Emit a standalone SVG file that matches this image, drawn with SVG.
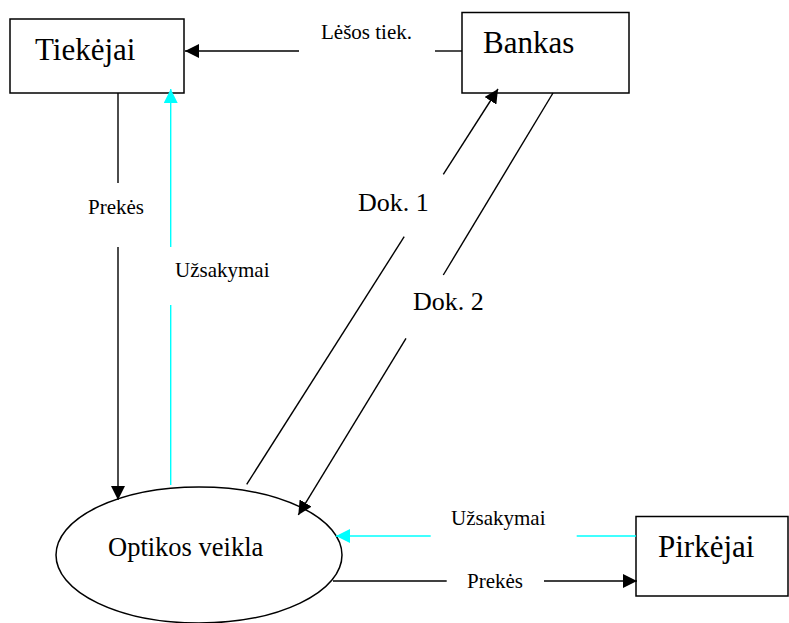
<svg xmlns="http://www.w3.org/2000/svg" width="789" height="623" viewBox="0 0 789 623">
  <style>
    .box { fill: #ffffff; stroke: #000000; stroke-width: 1.5; }
    text { font-family: "Liberation Serif", "Times New Roman", Times, "DejaVu Serif", serif; fill: #000000; }
    .node-label { font-size: 31px; }
    .flow { fill: none; stroke: #000000; stroke-width: 1.4; }
    .flow.cyan { stroke: #00ffff; }
    .flow-label { font-size: 21px; }
    .doc-label { font-size: 26px; }
  </style>
  <defs>
    <marker id="arrow-black" markerUnits="userSpaceOnUse" markerWidth="14" markerHeight="14" refX="14" refY="7" orient="auto">
      <path d="M0,0 L14,7 L0,14 Z" fill="#000000"/>
    </marker>
    <marker id="arrow-cyan" markerUnits="userSpaceOnUse" markerWidth="14" markerHeight="14" refX="14" refY="7" orient="auto">
      <path d="M0,0 L14,7 L0,14 Z" fill="#00ffff"/>
    </marker>
  </defs>
  <rect width="789" height="623" fill="#ffffff"/>

  <!-- Nodes -->
  <g id="tiekejai">
    <rect class="box" x="10" y="19" width="174" height="74"/>
    <text class="node-label" x="35" y="60" font-family="Liberation Serif">Tiekėjai</text>
  </g>
  <g id="bankas">
    <rect class="box" x="462" y="12.5" width="167" height="80.5"/>
    <text class="node-label" x="483" y="53" font-family="Liberation Serif">Bankas</text>
  </g>
  <g id="optikos-veikla">
    <ellipse class="box" cx="199" cy="555" rx="143" ry="68"/>
    <text class="node-label" style="font-size:26.5px" x="108" y="556" font-family="Liberation Serif">Optikos veikla</text>
  </g>
  <g id="pirkejai">
    <rect class="box" x="636" y="516.5" width="152" height="79.5"/>
    <text class="node-label" x="658" y="557" font-family="Liberation Serif">Pirkėjai</text>
  </g>

  <!-- Connectors -->
  <g id="connectors">
    <!-- Bankas -> Tiekėjai : Lėšos tiek. -->
    <line class="flow" x1="462" y1="51" x2="435" y2="51"/>
    <line class="flow" x1="299" y1="51" x2="185" y2="51" marker-end="url(#arrow-black)"/>
    <text class="flow-label" x="321" y="39">Lėšos tiek.</text>

    <!-- Tiekėjai -> Optikos veikla : Prekės -->
    <line class="flow" x1="118" y1="93" x2="118" y2="183"/>
    <line class="flow" x1="118" y1="247" x2="118" y2="500" marker-end="url(#arrow-black)"/>
    <text class="flow-label" x="88" y="214">Prekės</text>

    <!-- Optikos veikla -> Tiekėjai : Užsakymai -->
    <line class="flow cyan" x1="170.7" y1="485" x2="170.7" y2="305"/>
    <line class="flow cyan" x1="170.7" y1="247" x2="170.7" y2="89" marker-end="url(#arrow-cyan)"/>
    <text class="flow-label" x="175" y="277">Užsakymai</text>

    <!-- Optikos veikla -> Bankas : Dok. 1 -->
    <line class="flow" x1="246.7" y1="484.3" x2="404.2" y2="236.7"/>
    <line class="flow" x1="443.3" y1="174.3" x2="498" y2="89" marker-end="url(#arrow-black)"/>
    <text class="doc-label" x="358" y="211">Dok. 1</text>

    <!-- Bankas -> Optikos veikla : Dok. 2 -->
    <line class="flow" x1="553" y1="93" x2="443.3" y2="275"/>
    <line class="flow" x1="406" y1="338.3" x2="298.3" y2="515" marker-end="url(#arrow-black)"/>
    <text class="doc-label" x="413" y="310">Dok. 2</text>

    <!-- Pirkėjai -> Optikos veikla : Užsakymai -->
    <line class="flow cyan" x1="636" y1="536" x2="576.7" y2="536"/>
    <line class="flow cyan" x1="430.7" y1="536" x2="336" y2="536" marker-end="url(#arrow-cyan)"/>
    <text class="flow-label" x="451" y="525">Užsakymai</text>

    <!-- Optikos veikla -> Pirkėjai : Prekės -->
    <line class="flow" x1="333" y1="581" x2="446.7" y2="581"/>
    <line class="flow" x1="544" y1="581" x2="637" y2="581" marker-end="url(#arrow-black)"/>
    <text class="flow-label" x="467" y="588">Prekės</text>
  </g>
</svg>
